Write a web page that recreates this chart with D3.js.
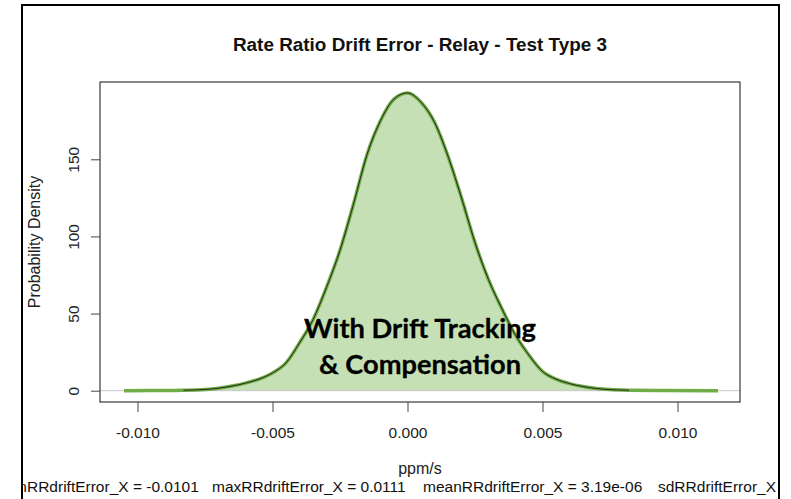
<!DOCTYPE html>
<html>
<head>
<meta charset="utf-8">
<script src="https://cdn.jsdelivr.net/npm/d3@7"></script>
<style>
  body { margin: 0; background: #fff; }
  svg { display: block; }
</style>
</head>
<body>
<div id="chart"></div>
<script>
// density estimate (x in ppm/s, y = probability density)
const densX = [-0.0105, -0.0095, -0.0083, -0.0075, -0.0070, -0.0065, -0.0060, -0.0055, -0.0050, -0.0045,
               -0.0040, -0.0035, -0.0030, -0.0025, -0.0020, -0.0015, -0.0010, -0.0005, 0.0000, 0.0005,
               0.0010, 0.0015, 0.0020, 0.0025, 0.0030, 0.0035, 0.0040, 0.0045, 0.0050, 0.0055,
               0.0060, 0.0065, 0.0070, 0.0075, 0.0082, 0.0095, 0.0115];
const densY = [0.0, 0.1, 0.3, 0.8, 1.6, 3.0, 4.9, 7.5, 11.5, 18,
               31, 46, 67, 91, 121, 153, 175, 189, 193, 187,
               174, 152, 125, 96, 72, 53, 36, 23, 12.5, 7.5,
               4.6, 2.7, 1.4, 0.7, 0.3, 0.1, 0.0];
// the thin black density line covers a narrower span than the green outline
const blackSpan = [-0.0083, 0.0082];

const xTicks = [-0.010, -0.005, 0.000, 0.005, 0.010];
const xTickLabels = ["-0.010", "-0.005", "0.000", "0.005", "0.010"];
const yTicks = [0, 50, 100, 150];
const yTickLabels = ["0", "50", "100", "150"];

const title = "Rate Ratio Drift Error - Relay - Test Type 3";
const xLabel = "ppm/s";
const yLabel = "Probability Density";
const noteLines = ["With Drift Tracking", "& Compensation"];
const statTexts = ["minRRdriftError_X = -0.0101", "maxRRdriftError_X = 0.0111",
                   "meanRRdriftError_X = 3.19e-06", "sdRRdriftError_X = 0.00207"];

const W = 791, H = 499;
const box = { left: 100, right: 740, top: 82, bottom: 402 };
const font = "'Liberation Sans', Arial, sans-serif";

const svg = d3.select("#chart").append("svg")
  .attr("width", W).attr("height", H)
  .attr("viewBox", `0 0 ${W} ${H}`);

const x = d3.scaleLinear().domain([-0.010, 0.010]).range([137.5, 677.5]);
const y = d3.scaleLinear().domain([0, 150]).range([390.7, 159.3]);

const pts = densX.map((d, i) => ({ x: d, y: densY[i] }));

// filled density
svg.append("path")
  .datum(pts)
  .attr("fill", "#c5e0b4")
  .attr("d", d3.area().x(d => x(d.x)).y0(y(0)).y1(d => y(d.y)).curve(d3.curveMonotoneX));

// grey zero line
svg.append("line")
  .attr("x1", box.left).attr("x2", box.right)
  .attr("y1", y(0)).attr("y2", y(0))
  .attr("stroke", "#c8c8c8").attr("stroke-width", 1);

const line = d3.line().x(d => x(d.x)).y(d => y(d.y)).curve(d3.curveMonotoneX);

svg.append("path")
  .datum(pts)
  .attr("fill", "none")
  .attr("stroke", "#70ad47")
  .attr("stroke-width", 3.5)
  .attr("stroke-linejoin", "round")
  .attr("d", line);

svg.append("path")
  .datum(pts.filter(d => d.x >= blackSpan[0] && d.x <= blackSpan[1]))
  .attr("fill", "none")
  .attr("stroke", "#1a1a1a")
  .attr("stroke-width", 0.9)
  .attr("d", line);

// plot box
svg.append("rect")
  .attr("x", box.left).attr("y", box.top)
  .attr("width", box.right - box.left).attr("height", box.bottom - box.top)
  .attr("fill", "none").attr("stroke", "#111").attr("stroke-width", 1);

// x axis
const gx = svg.append("g")
  .attr("transform", `translate(0,${box.bottom})`)
  .call(d3.axisBottom(x).tickValues(xTicks).tickSize(10)
    .tickFormat((d, i) => xTickLabels[i]));
gx.select(".domain").remove();
gx.selectAll(".tick line").attr("stroke", "#444");
gx.selectAll(".tick text")
  .attr("y", 35.5).attr("dy", null)
  .attr("fill", "#222")
  .style("font-family", font).style("font-size", "15.5px");

// y axis
const gy = svg.append("g")
  .attr("transform", `translate(${box.left},0)`)
  .call(d3.axisLeft(y).tickValues(yTicks).tickSize(9)
    .tickFormat((d, i) => yTickLabels[i]));
gy.select(".domain").remove();
gy.selectAll(".tick line").attr("stroke", "#444");
gy.selectAll(".tick text")
  .attr("x", null).attr("dy", null)
  .attr("transform", "translate(-21.5,0) rotate(-90)")
  .attr("text-anchor", "middle")
  .attr("fill", "#222")
  .style("font-family", font).style("font-size", "15.5px");

// titles
svg.append("text")
  .attr("x", 420).attr("y", 51)
  .attr("text-anchor", "middle")
  .style("font-family", font).style("font-size", "18.9px").style("font-weight", "bold")
  .attr("fill", "#111")
  .text(title);

svg.append("text")
  .attr("x", 420).attr("y", 474)
  .attr("text-anchor", "middle")
  .style("font-family", font).style("font-size", "16px")
  .attr("fill", "#222")
  .text(xLabel);

svg.append("text")
  .attr("transform", `translate(40,242) rotate(-90)`)
  .attr("text-anchor", "middle")
  .style("font-family", font).style("font-size", "16px")
  .attr("fill", "#222")
  .text(yLabel);

// annotation
const note = svg.append("g");
note.selectAll("text")
  .data(noteLines)
  .join("text")
  .attr("x", 420)
  .attr("y", (d, i) => i === 0 ? 338 : 374)
  .attr("text-anchor", "middle")
  .style("font-family", "Lato, 'Open Sans', sans-serif")
  .style("font-weight", "bold")
  .style("font-size", "24px")
  .attr("fill", "#000")
  .attr("stroke", "#000").attr("stroke-width", 0.3)
  .text(d => d);
// fit first line to the width seen in the picture
const first = note.select("text").node();
const fs = 24 * 232 / first.getComputedTextLength();
note.selectAll("text").style("font-size", fs + "px");

// summary line at the bottom, clipped by the frame
svg.append("clipPath").attr("id", "frameClip")
  .append("rect").attr("x", 23).attr("y", 0).attr("width", 755).attr("height", H);
const statX = [2, 212, 423, 658];
svg.append("g").attr("clip-path", "url(#frameClip)")
  .selectAll("text")
  .data(statTexts)
  .join("text")
  .attr("x", (d, i) => statX[i])
  .attr("y", 492)
  .style("font-family", font).style("font-size", "15.5px")
  .attr("fill", "#111")
  .text(d => d);

// outer frame (top, left and right edges)
svg.append("path")
  .attr("d", `M22,${H} L22,5 L779,5 L779,${H}`)
  .attr("fill", "none").attr("stroke", "#000").attr("stroke-width", 2);
</script>
</body>
</html>
